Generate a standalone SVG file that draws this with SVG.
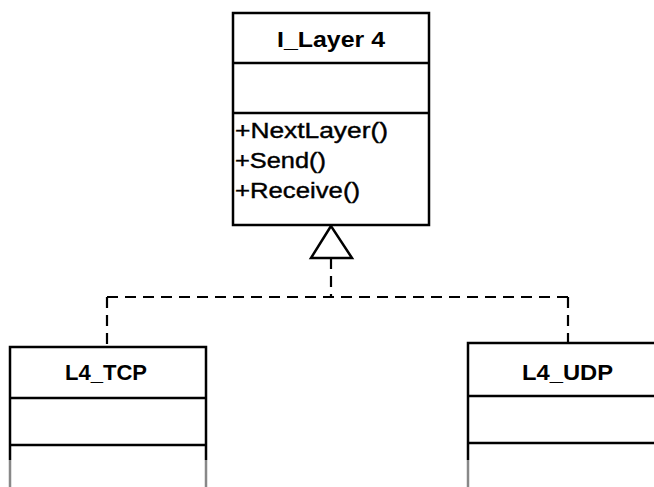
<svg xmlns="http://www.w3.org/2000/svg" width="654" height="487" viewBox="0 0 654 487">
<style>
.box{fill:#fff;stroke:#000;stroke-width:2.5}
.ln{stroke:#000;stroke-width:2.5;fill:none}
.gr{stroke:#888;stroke-width:2.5;fill:none}
.dash{stroke:#000;stroke-width:2.2;fill:none;stroke-dasharray:11 7}
.t{font-family:"Liberation Sans",Arial,sans-serif;font-size:22px;fill:#000;stroke:#000;stroke-width:0.4}
.b{font-weight:bold;stroke-width:0}
</style>
<rect width="654" height="487" fill="#fff"/>
<g id="connectors">
<path class="dash" d="M331 258 V297"/>
<path class="dash" d="M107 297 H568"/>
<path class="dash" d="M107 297 V347"/>
<path class="dash" d="M568 297 V343"/>
<polygon points="331,226 311,258 352,258" fill="#fff" stroke="#000" stroke-width="2.5"/>
</g>
<g id="I_Layer4">
<rect class="box" x="233" y="13" width="196" height="212"/>
<line class="ln" x1="233" y1="63" x2="429" y2="63"/>
<line class="ln" x1="233" y1="113" x2="429" y2="113"/>
<text class="t b" x="277" y="47" textLength="108" lengthAdjust="spacingAndGlyphs">I_Layer 4</text>
<text class="t" x="235" y="138" textLength="153" lengthAdjust="spacingAndGlyphs">+NextLayer()</text>
<text class="t" x="235" y="168" textLength="91" lengthAdjust="spacingAndGlyphs">+Send()</text>
<text class="t" x="235" y="198" textLength="125" lengthAdjust="spacingAndGlyphs">+Receive()</text>
</g>
<g id="L4_TCP">
<path class="ln" d="M10 460 V347 H206 V460"/>
<path class="gr" d="M10 460 V487 M206 460 V487"/>
<line class="ln" x1="10" y1="398" x2="206" y2="398"/>
<line class="ln" x1="10" y1="445" x2="206" y2="445"/>
<text class="t b" x="65" y="380" textLength="82" lengthAdjust="spacingAndGlyphs">L4_TCP</text>
</g>
<g id="L4_UDP">
<path class="ln" d="M654 343 H468 V460"/>
<path class="gr" d="M468 460 V487"/>
<line class="ln" x1="468" y1="396" x2="654" y2="396"/>
<line class="ln" x1="468" y1="443" x2="654" y2="443"/>
<text class="t b" x="522" y="380" textLength="91" lengthAdjust="spacingAndGlyphs">L4_UDP</text>
</g>
</svg>
